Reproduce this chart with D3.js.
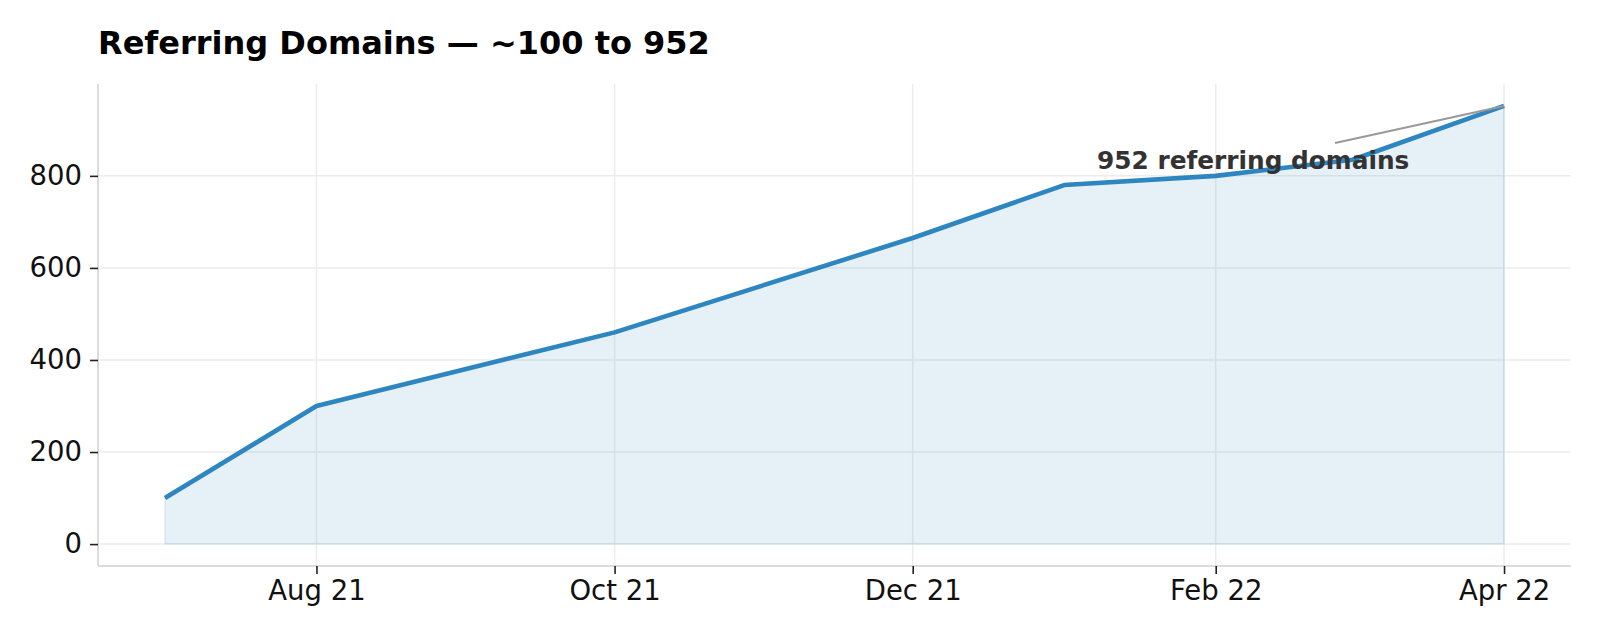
<!DOCTYPE html>
<html>
<head>
<meta charset="utf-8">
<script src="https://cdn.jsdelivr.net/npm/d3@7"></script>
<style>
  body { margin: 0; background: #fff; }
  svg { display: block; font-family: 'DejaVu Sans', sans-serif; }
</style>
</head>
<body>
<div id="chart"></div>
<script>
// data
let dates = ['2021-07-01', '2021-08-01', '2021-10-01', '2021-12-01', '2022-01-01', '2022-02-01', '2022-03-01', '2022-04-01'];
let values = [100, 300, 460, 665, 780, 800, 835, 952];
let xTickDates = ['2021-08-01', '2021-10-01', '2021-12-01', '2022-02-01', '2022-04-01'];
let yTicks = [0, 200, 400, 600, 800];
let titleText = 'Referring Domains — ~100 to 952';
let noteText = '952 referring domains';

let width = 1600,
    height = 640,
    margin = {left: 98, top: 84, right: 29, bottom: 74};

let parse = d3.utcParse('%Y-%m-%d');
let data = dates.map((d, i) => ({date: parse(d), value: values[i]}));

let svg = d3.select('#chart').append('svg')
    .attr('width', width)
    .attr('height', height);

// matplotlib style 5% margins around the data
let xExt = d3.extent(data, d => d.date);
let xPad = (xExt[1] - xExt[0]) * 0.05;
let yMax = d3.max(values);
let yPad = yMax * 0.05;

let x = d3.scaleUtc()
    .domain([new Date(+xExt[0] - xPad), new Date(+xExt[1] + xPad)])
    .range([margin.left, width - margin.right]);

let y = d3.scaleLinear()
    .domain([-yPad, yMax + yPad])
    .range([height - margin.bottom, margin.top]);

// grid
let grid = svg.append('g').attr('class', 'grid');
grid.selectAll('.gy')
    .data(yTicks)
    .join('line')
    .attr('x1', margin.left)
    .attr('x2', width - margin.right)
    .attr('y1', d => y(d))
    .attr('y2', d => y(d))
    .attr('stroke', '#ececec')
    .attr('stroke-width', 1.5);
grid.selectAll('.gx')
    .data(xTickDates.map(parse))
    .join('line')
    .attr('x1', d => x(d))
    .attr('x2', d => x(d))
    .attr('y1', margin.top)
    .attr('y2', height - margin.bottom)
    .attr('stroke', '#ececec')
    .attr('stroke-width', 1.5);

// area + line
let area = d3.area()
    .x(d => x(d.date))
    .y0(y(0))
    .y1(d => y(d.value));

svg.append('path')
    .datum(data)
    .attr('d', area)
    .attr('fill', '#2e86c1')
    .attr('fill-opacity', 0.12)
    .attr('stroke', '#2e86c1')
    .attr('stroke-opacity', 0.12)
    .attr('stroke-width', 1.5);

svg.append('path')
    .datum(data)
    .attr('d', d3.line().x(d => x(d.date)).y(d => y(d.value)))
    .attr('fill', 'none')
    .attr('stroke', '#2e86c1')
    .attr('stroke-width', 4.6)
    .attr('stroke-linejoin', 'round');

// axes
let xAxis = d3.axisBottom(x)
    .tickValues(xTickDates.map(parse))
    .tickFormat(d3.utcFormat('%b %y'))
    .tickSizeInner(8)
    .tickSizeOuter(0)
    .tickPadding(6);

let yAxis = d3.axisLeft(y)
    .tickValues(yTicks)
    .tickSizeInner(8)
    .tickSizeOuter(0)
    .tickPadding(8);

let gx = svg.append('g')
    .attr('transform', `translate(0, ${height - margin.bottom})`)
    .call(xAxis);
let gy = svg.append('g')
    .attr('transform', `translate(${margin.left}, 0)`)
    .call(yAxis);

[gx, gy].forEach(g => {
    g.select('.domain')
        .attr('stroke', '#dcdcdc')
        .attr('stroke-width', 2);
    g.selectAll('.tick line')
        .attr('stroke', '#222')
        .attr('stroke-width', 1.6);
    g.selectAll('.tick text')
        .attr('fill', '#111')
        .style('font-size', '27.5px')
        .style('font-family', "'DejaVu Sans', sans-serif");
});
gx.select('.domain').attr('d', `M${margin.left},0H${width - margin.right}`);
gy.select('.domain').attr('d', `M0,${margin.top}V${height - margin.bottom}`);

// annotation on the last point
let last = data[data.length - 1];
let lx = x(last.date), ly = y(last.value);

svg.append('line')
    .attr('x1', lx - 169)
    .attr('y1', ly + 37)
    .attr('x2', lx)
    .attr('y2', ly)
    .attr('stroke', '#999')
    .attr('stroke-width', 2);

svg.append('text')
    .attr('x', lx - 407)
    .attr('y', ly + 63)
    .attr('fill', '#333')
    .style('font-size', '24.8px')
    .style('font-weight', 'bold')
    .text(noteText);

// title
svg.append('text')
    .attr('x', margin.left)
    .attr('y', 54)
    .attr('fill', '#000')
    .style('font-size', '32px')
    .style('font-weight', 'bold')
    .text(titleText);
</script>
</body>
</html>
